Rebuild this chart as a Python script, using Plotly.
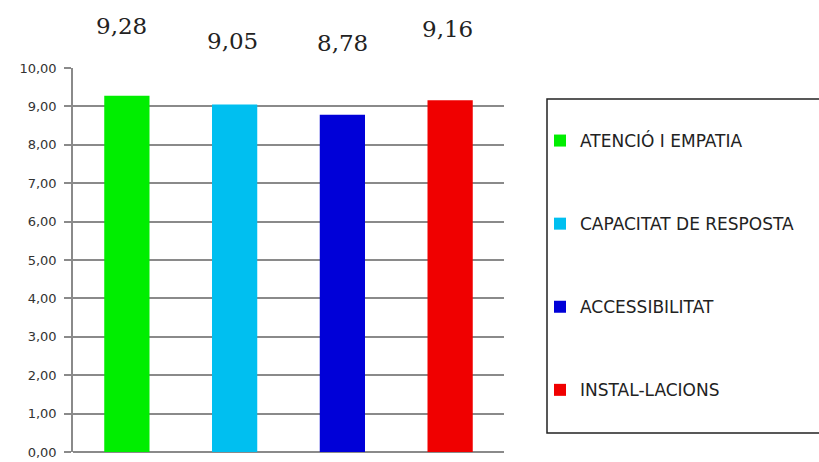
import plotly.graph_objects as go

categories = ["ATENCIÓ I EMPATIA", "CAPACITAT DE RESPOSTA", "ACCESSIBILITAT", "INSTAL-LACIONS"]
values = [9.28, 9.05, 8.78, 9.16]
value_labels = ["9,28", "9,05", "8,78", "9,16"]
colors = ["#00EE00", "#00BFF0", "#0000D8", "#F00000"]
label_yshift = [70, 63, 72, 71]
label_xshift = [-5, -2, 0, -3]

fig = go.Figure()
for cat, val, col in zip(categories, values, colors):
    fig.add_trace(go.Bar(x=[cat], y=[val], name=cat, marker_color=col,
                         marker_line_width=0, legendgroup=cat, hoverinfo="skip"))

for cat, val, lab, ys, xs in zip(categories, values, value_labels, label_yshift, label_xshift):
    fig.add_annotation(x=cat, y=val, text=lab, showarrow=False, yshift=ys, xshift=xs,
                       font=dict(family="DejaVu Serif", size=23, color="#222222"))

W, H = 819, 462
L, R, T, B = 73, 315, 68, 10
pw, ph = W - L - R, H - T - B

def px(x):
    return (x - L) / pw

def py(y):
    return (H - B - y) / ph

fig.add_shape(type="rect", xref="paper", yref="paper",
              x0=px(547), x1=px(840), y0=py(433), y1=py(99),
              line=dict(color="#222222", width=1.5), fillcolor="rgba(0,0,0,0)", layer="below")

fig.update_layout(
    width=W, height=H,
    margin=dict(l=L, r=R, t=T, b=B, autoexpand=False),
    paper_bgcolor="white", plot_bgcolor="white",
    barmode="overlay", bargap=0.58,
    separators=",.",
    showlegend=True,
    legend=dict(x=px(540), xanchor="left", y=py(123), yanchor="top",
                bgcolor="rgba(0,0,0,0)", tracegroupgap=58, traceorder="grouped",
                font=dict(family="DejaVu Sans", size=17, color="#222222")),
    xaxis=dict(showticklabels=False, showgrid=False, zeroline=False, showline=False,
               ticks="", automargin=False),
    yaxis=dict(range=[0, 10], dtick=1, tickformat=".2f", showgrid=True,
               gridcolor="#8a8a8a", gridwidth=1.5, automargin=False,
               zeroline=True, zerolinecolor="#8a8a8a", zerolinewidth=1.5,
               showline=True, linecolor="#8a8a8a", linewidth=1.5,
               ticks="outside", ticklen=7, tickcolor="#8a8a8a", tickwidth=1.5,
               ticklabelstandoff=5, ticklabeloverflow="allow",
               tickfont=dict(family="DejaVu Sans", size=13, color="#333333")),
)

fig.write_html("out.html")
